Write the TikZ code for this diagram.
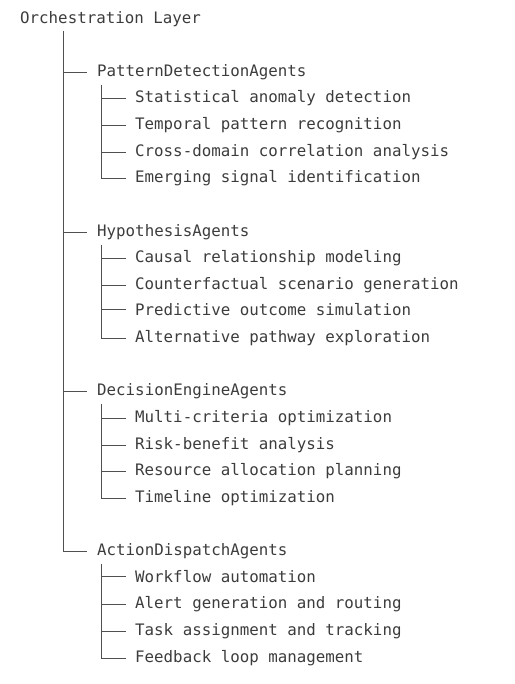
\documentclass[tikz,border=0pt]{standalone}
\usepackage{fontspec}
\setmonofont{DejaVu Sans Mono}
\definecolor{txtc}{HTML}{3C3C3C}
\definecolor{linec}{HTML}{505050}
\tikzset{
  txt/.style={anchor=mid west, inner sep=0pt, text=txtc, font=\ttfamily\fontsize{15.8}{18}\selectfont},
  conn/.style={draw=linec, line width=1.5pt}
}
\begin{document}
\begin{tikzpicture}[x=1pt,y=-1pt]
\useasboundingbox (0,0) rectangle (514,684);
\def\L#1{int(21+26.625*#1)+0.5}
\node[txt] (root) at (20,{\L{0}}) {Orchestration Layer};
\coordinate (trunk) at (63.5,31);
% groups
\node[txt] (g1) at (97,{\L{2}}) {PatternDetectionAgents};
\node[txt] (g2) at (97,{\L{8}}) {HypothesisAgents};
\node[txt] (g3) at (97,{\L{14}}) {DecisionEngineAgents};
\node[txt] (g4) at (97,{\L{20}}) {ActionDispatchAgents};
% items
\node[txt] (g1i1) at (135,{\L{3}}) {Statistical anomaly detection};
\node[txt] (g1i2) at (135,{\L{4}}) {Temporal pattern recognition};
\node[txt] (g1i3) at (135,{\L{5}}) {Cross-domain correlation analysis};
\node[txt] (g1i4) at (135,{\L{6}}) {Emerging signal identification};
\node[txt] (g2i1) at (135,{\L{9}}) {Causal relationship modeling};
\node[txt] (g2i2) at (135,{\L{10}}) {Counterfactual scenario generation};
\node[txt] (g2i3) at (135,{\L{11}}) {Predictive outcome simulation};
\node[txt] (g2i4) at (135,{\L{12}}) {Alternative pathway exploration};
\node[txt] (g3i1) at (135,{\L{15}}) {Multi-criteria optimization};
\node[txt] (g3i2) at (135,{\L{16}}) {Risk-benefit analysis};
\node[txt] (g3i3) at (135,{\L{17}}) {Resource allocation planning};
\node[txt] (g3i4) at (135,{\L{18}}) {Timeline optimization};
\node[txt] (g4i1) at (135,{\L{21}}) {Workflow automation};
\node[txt] (g4i2) at (135,{\L{22}}) {Alert generation and routing};
\node[txt] (g4i3) at (135,{\L{23}}) {Task assignment and tracking};
\node[txt] (g4i4) at (135,{\L{24}}) {Feedback loop management};
% main trunk
\draw[conn] (trunk) |- ([xshift=-10pt]g4.west);
\foreach \g in {g1,g2,g3}
  \draw[conn] (trunk |- \g.west) -- ([xshift=-10pt]\g.west);
% sub trees
\foreach \g in {g1,g2,g3,g4}{
  \draw[conn] ([xshift=4.5pt,yshift=-12.5pt]\g.west) |- ([xshift=-9pt]\g i4.west);
  \foreach \i in {1,2,3}
    \draw[conn] ([xshift=4.5pt]\g.west |- \g i\i.west) -- ([xshift=-9pt]\g i\i.west);
}
\end{tikzpicture}
\end{document}
